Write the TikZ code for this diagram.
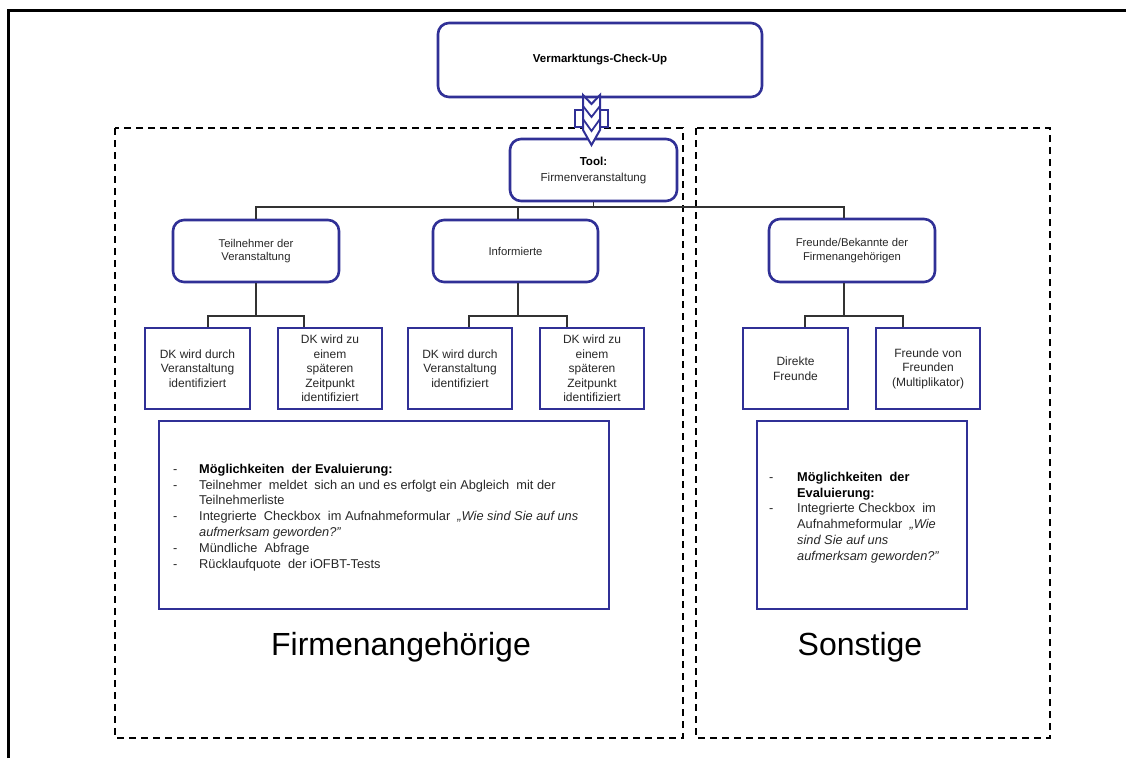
\documentclass[tikz,border=0pt]{standalone}
\usepackage{fontspec}
\setmainfont{Liberation Sans}
\usetikzlibrary{positioning}
\definecolor{myblue}{RGB}{48,48,150}
\definecolor{txtgray}{RGB}{40,40,40}
\definecolor{linegray}{RGB}{50,50,50}
\tikzset{
  rbox/.style={draw=myblue, line width=2.6pt, rounded corners=11pt, align=center, inner sep=2pt, text=txtgray, fill=white},
  sbox/.style={draw=myblue, line width=2.6pt, align=center, inner sep=2pt, text=txtgray, fill=white},
  dbox/.style={draw=black, line width=2.6pt, dash pattern=on 7pt off 5pt},
  conn/.style={draw=linegray, line width=1.3pt},
  small/.style={font=\fontsize{11.3}{13.8}\selectfont},
  mid/.style={font=\fontsize{12}{14.5}\selectfont},
  evtext/.style={anchor=north west, inner sep=0pt, text=txtgray, font=\fontsize{12.8}{15.8}\selectfont},
  big/.style={font=\fontsize{32}{38}\selectfont, text=black, inner sep=0pt},
  arr/.style={draw=myblue, fill=white, line width=2pt, line join=miter},
}
\begin{document}
\begin{tikzpicture}[x=1pt,y=-1pt]
\useasboundingbox (0,0) rectangle (1126,758);
% outer frame
\draw[line width=3pt, black] (8,758) -- (8,10) -- (1126,10);
% dashed group boxes
\draw[dbox] (115,128) rectangle (683,738);
\draw[dbox] (696,128) rectangle (1050,738);
% top box
\node[rbox, minimum width=324pt, minimum height=74pt, font=\fontsize{11.5}{13}\selectfont\bfseries, text=black] (top) at (600,60) {Vermarktungs-Check-Up};
% tool box
\node[rbox, minimum width=167pt, minimum height=62pt, font=\fontsize{11.6}{16}\selectfont] (tool) at (593.5,170) {{\bfseries\color{black}Tool:}\\Firmenveranstaltung};
% double chevron arrow
\draw[arr] (575,110) rectangle (608,127);
\draw[arr] (583,95) -- (591.5,104) -- (600,95) -- (600,130) -- (591.5,145) -- (583,130) -- cycle;
\draw[draw=myblue, line width=1.8pt] (583,106) -- (591.5,117) -- (600,106);
\draw[draw=myblue, line width=1.8pt] (583,119) -- (591.5,131) -- (600,119);
% level 2
\node[rbox, small, minimum width=166pt, minimum height=62pt] (teil) at (256,251) {Teilnehmer der\\Veranstaltung};
\node[rbox, small, minimum width=165pt, minimum height=62pt] (info) at (515.5,251) {Informierte};
\node[rbox, small, minimum width=166pt, minimum height=63pt] (fre) at (852,250.5) {Freunde/Bekannte der\\Firmenangehörigen};
% level 3
\node[sbox, mid, minimum width=105pt, minimum height=81pt] (dk1) at (197.5,368.5) {DK wird durch\\Veranstaltung\\identifiziert};
\node[sbox, mid, minimum width=104pt, minimum height=81pt] (dk2) at (330,368.5) {DK wird zu\\einem\\späteren\\Zeitpunkt\\identifiziert};
\node[sbox, mid, minimum width=104pt, minimum height=81pt] (dk3) at (460,368.5) {DK wird durch\\Veranstaltung\\identifiziert};
\node[sbox, mid, minimum width=104pt, minimum height=81pt] (dk4) at (592,368.5) {DK wird zu\\einem\\späteren\\Zeitpunkt\\identifiziert};
\node[sbox, mid, minimum width=105pt, minimum height=81pt] (dir) at (795.5,368.5) {Direkte\\Freunde};
\node[sbox, mid, minimum width=104pt, minimum height=81pt] (fvf) at (928,368.5) {Freunde von\\Freunden\\(Multiplikator)};
% connectors
\coordinate (bus) at (593.5,207);
\draw[conn] (tool.south) -- (bus);
\draw[conn] (bus) -| (teil.north);
\draw[conn] (bus) -| ([xshift=2.5pt]info.north);
\draw[conn] (bus) -| ([xshift=-8pt]fre.north);
\coordinate (b1) at (256,316);
\coordinate (b2) at (518,316);
\coordinate (b3) at (844,316);
\draw[conn] (teil.south) -- (b1);
\draw[conn] (b1) -| ([xshift=10.5pt]dk1.north);
\draw[conn] (b1) -| ([xshift=-26pt]dk2.north);
\draw[conn] ([xshift=2.5pt]info.south) -- (b2);
\draw[conn] (b2) -| ([xshift=9pt]dk3.north);
\draw[conn] (b2) -| ([xshift=-25pt]dk4.north);
\draw[conn] ([xshift=-8pt]fre.south) -- (b3);
\draw[conn] (b3) -| ([xshift=9.5pt]dir.north);
\draw[conn] (b3) -| ([xshift=-25pt]fvf.north);
% evaluation boxes
\node[sbox, minimum width=450pt, minimum height=188pt] (ev1) at (384,515) {};
\node[sbox, minimum width=210pt, minimum height=188pt] (ev2) at (862,515) {};
\node[evtext] (ev1t) at (173,462)
{\begin{tabular}{@{}p{26pt}@{}p{400pt}@{}}
- & \leavevmode{\bfseries\color{black}Möglichkeiten\ \ der Evaluierung:}\\
- & Teilnehmer\ \ meldet\ \ sich an und es erfolgt ein Abgleich\ \ mit der\newline Teilnehmerliste\\
- & Integrierte\ \ Checkbox\ \ im Aufnahmeformular\ \ \textit{„Wie sind Sie auf uns}\newline \textit{aufmerksam geworden?"}\\
- & Mündliche\ \ Abfrage\\
- & Rücklaufquote\ \ der iOFBT-Tests
\end{tabular}};
\node[evtext] (ev2t) at (769,470)
{\begin{tabular}{@{}p{28pt}@{}p{160pt}@{}}
- & \leavevmode{\bfseries\color{black}Möglichkeiten\ \ der\newline Evaluierung:}\\
- & Integrierte Checkbox\ \ im\newline Aufnahmeformular\ \ \textit{„Wie}\newline \textit{sind Sie auf uns}\newline \textit{aufmerksam geworden?"}
\end{tabular}};
% group labels
\node[big] (lab1) at (401,647) {Firmenangehörige};
\node[big] (lab2) at (860,647) {Sonstige};
\end{tikzpicture}
\end{document}
